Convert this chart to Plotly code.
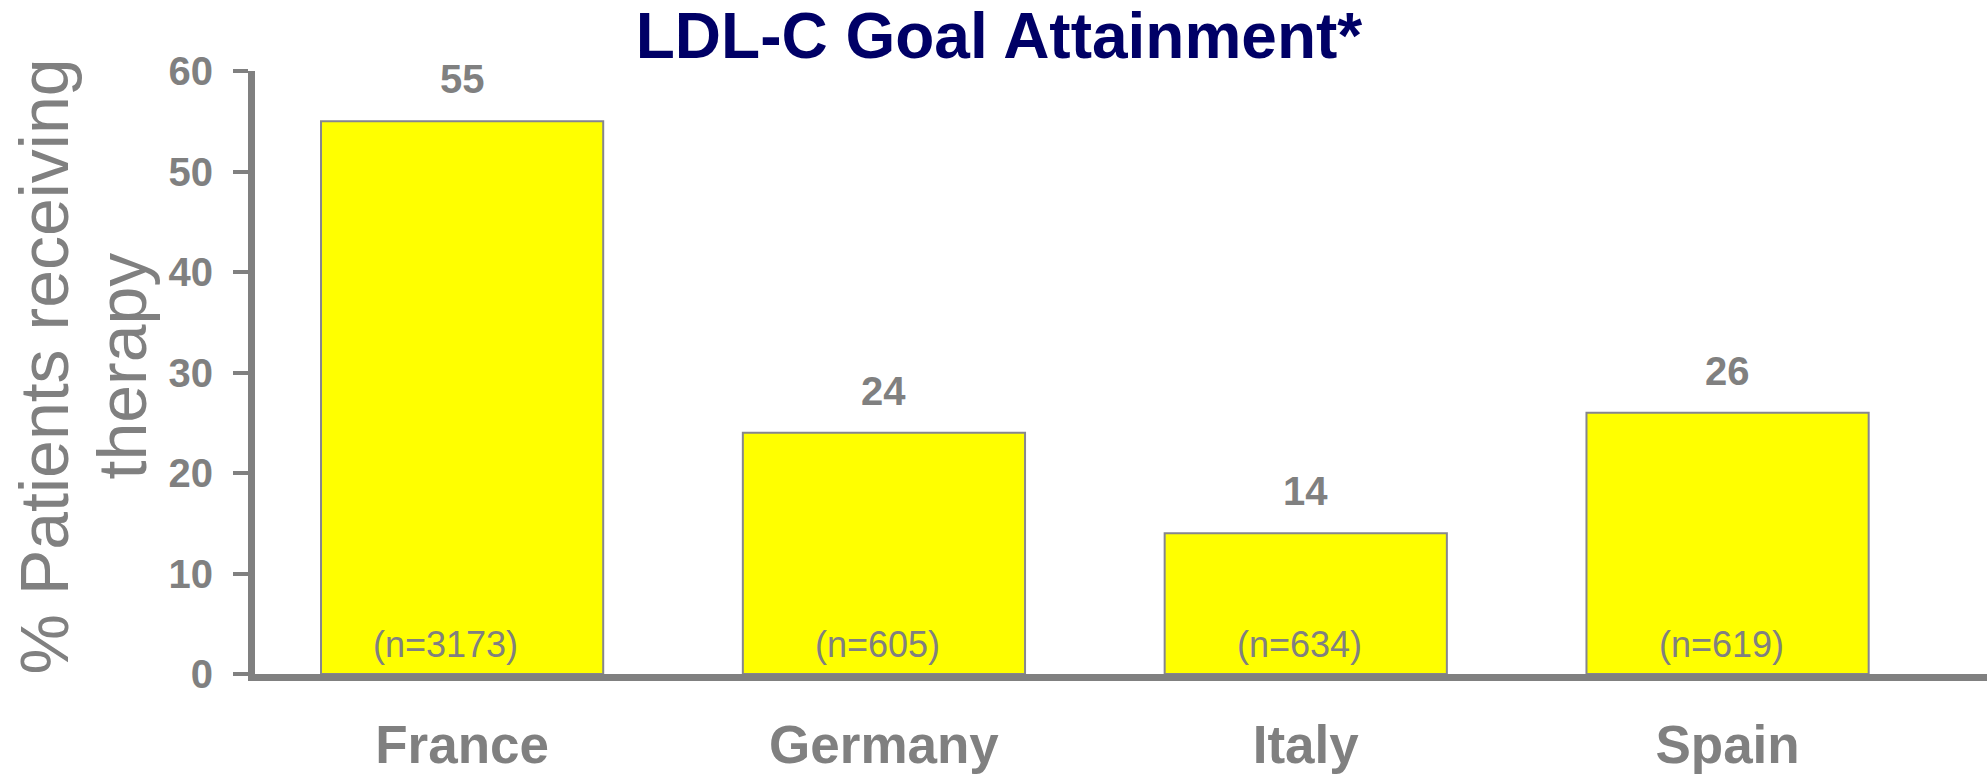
import plotly.graph_objects as go

# Goal attainment by country
countries = ["France", "Germany", "Italy", "Spain"]
pct_at_goal = [55, 24, 14, 26]
sample_sizes = ["(n=3173)", "(n=605)", "(n=634)", "(n=619)"]
y_ticks = [0, 10, 20, 30, 40, 50, 60]
y_title_lines = ["% Patients receiving", "therapy"]

GRAY = "#808080"
NAVY = "#000066"
FONT = "Arial, Liberation Sans, sans-serif"

W, H = 1987, 774
M_L, M_R, M_T, M_B = 255, 0, 71, 97
PLOT_W = W - M_L - M_R

fig = go.Figure()
fig.add_trace(go.Bar(
    x=countries,
    y=pct_at_goal,
    marker=dict(color="#FFFF00", line=dict(color="#86868e", width=2)),
    hoverinfo="skip",
))

# value labels above each bar
for c, v in zip(countries, pct_at_goal):
    fig.add_annotation(
        x=c, y=v, xref="x", yref="y", text=str(v), showarrow=False,
        yanchor="bottom", yshift=18,
        font=dict(family=FONT, size=40, color=GRAY, weight="bold"),
    )

# sample size labels inside the bars
for c, n in zip(countries, sample_sizes):
    fig.add_annotation(
        x=c, y=2.9, xref="x", yref="y", text=n, showarrow=False,
        xanchor="right", xshift=58, yanchor="middle",
        font=dict(family=FONT, size=36, color=GRAY),
    )

# y-axis title, one annotation per line for tighter leading
for px, line in zip([44, 122], y_title_lines):
    fig.add_annotation(
        x=(px - M_L) / PLOT_W, y=0.51, xref="paper", yref="paper",
        text=line, showarrow=False, textangle=-90,
        xanchor="center", yanchor="middle",
        font=dict(family=FONT, size=68, color=GRAY),
    )

fig.update_layout(
    width=W, height=H,
    margin=dict(l=M_L, r=M_R, t=M_T, b=M_B),
    paper_bgcolor="white", plot_bgcolor="white",
    showlegend=False,
    bargap=0.331,
    title=dict(
        text="LDL-C Goal Attainment*",
        x=999 / W, xanchor="center", xref="container",
        y=1 - 36 / H, yanchor="middle", yref="container",
        font=dict(family=FONT, size=64, color=NAVY, weight="bold"),
    ),
    xaxis=dict(
        range=[-0.491, 3.615],
        showline=True, linecolor=GRAY, linewidth=7,
        ticks="", showgrid=False, zeroline=False,
        tickfont=dict(family=FONT, size=53, color=GRAY, weight="bold"),
        ticklabelstandoff=18,
    ),
    yaxis=dict(
        range=[0, 60],
        tickvals=y_ticks,
        showline=True, linecolor=GRAY, linewidth=7,
        ticks="outside", ticklen=15, tickwidth=4, tickcolor=GRAY,
        showgrid=False, zeroline=False,
        tickfont=dict(family=FONT, size=40, color=GRAY, weight="bold"),
        ticklabelstandoff=12,
    ),
)

fig.write_html("out.html")
